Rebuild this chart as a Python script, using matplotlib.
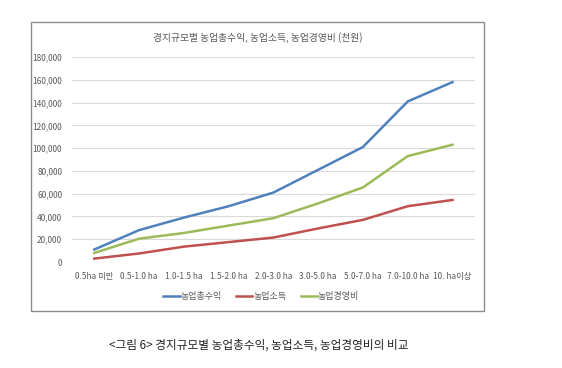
import matplotlib.pyplot as plt
from matplotlib.patches import Rectangle
from matplotlib.ticker import FuncFormatter

plt.rcParams['font.family'] = ['Noto Sans CJK KR', 'DejaVu Sans']

# =========================
# Data
# =========================
categories = ["0.5ha 미만", "0.5-1.0 ha", "1.0-1.5 ha", "1.5-2.0 ha", "2.0-3.0 ha",
              "3.0-5.0 ha", "5.0-7.0 ha", "7.0-10.0 ha", "10. ha이상"]

total_revenue = [11000, 28000, 39000, 49000, 61000, 81000, 101000, 141000, 158000]
farm_income = [3000, 7500, 13500, 17500, 21500, 29500, 37000, 49000, 54500]
farm_expense = [8000, 20500, 25500, 32000, 38500, 51500, 65500, 93000, 103000]

series_names = ["농업총수익", "농업소득", "농업경영비"]
colors = ["#4F81BD", "#C0504D", "#9BBB59"]
text_gray = "#595959"

# =========================
# Figure
# =========================
fig = plt.figure(figsize=(5.62, 3.68), dpi=100)
fig.patch.set_facecolor("white")

# chart frame
fig.patches.append(Rectangle((0.055, 0.155), 0.806, 0.785, transform=fig.transFigure,
                             fill=False, edgecolor="#8C8C8C", linewidth=1.0))

ax = fig.add_axes([0.128, 0.288, 0.717, 0.557])
x = range(len(categories))
for vals, name, c in zip([total_revenue, farm_income, farm_expense], series_names, colors):
    ax.plot(x, vals, color=c, linewidth=1.8, label=name)

ax.set_xlim(-0.5, len(categories) - 0.5)
ax.set_ylim(0, 180000)
ax.set_yticks(range(0, 180001, 20000))
ax.yaxis.set_major_formatter(FuncFormatter(lambda v, p: f"{int(v):,}"))
ax.set_xticks(list(x))
ax.set_xticklabels(categories)
ax.tick_params(axis="both", length=0, labelsize=6, colors=text_gray)
ax.tick_params(axis="x", pad=7)
ax.tick_params(axis="y", pad=7)
ax.grid(axis="y", color="#D9D9D9", linewidth=0.8)
ax.set_axisbelow(True)
for s in ax.spines.values():
    s.set_visible(False)

fig.text(0.458, 0.898, "경지규모별 농업총수익, 농업소득, 농업경영비 (천원)",
         ha="center", va="center", fontsize=7, color=text_gray)

ax.legend(loc="center", bbox_to_anchor=(0.47, -0.17), ncol=3, frameon=False,
          fontsize=6.5, labelcolor=text_gray, handlelength=1.8, handletextpad=0.1,
          columnspacing=1.6)

fig.text(0.46, 0.062, "<그림 6> 경지규모별 농업총수익, 농업소득, 농업경영비의 비교",
         ha="center", va="center", fontsize=8.4, color="#222222")

plt.savefig("out.png", dpi=100)
plt.close()
